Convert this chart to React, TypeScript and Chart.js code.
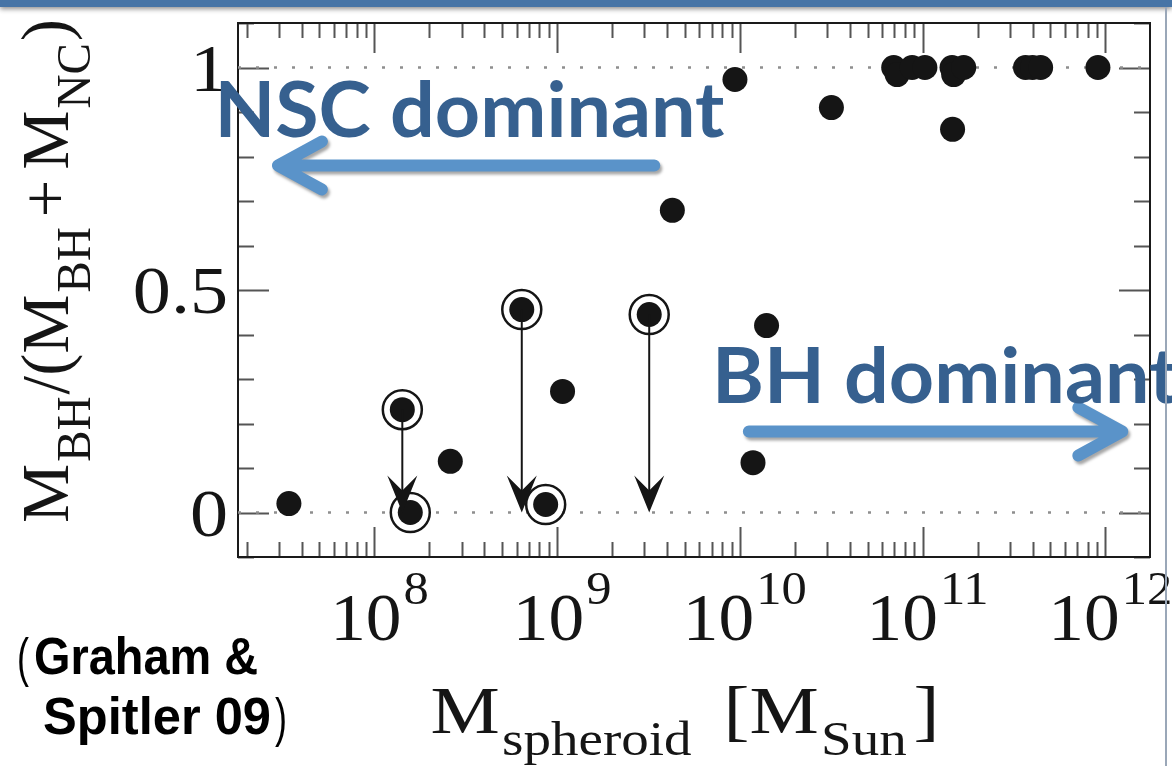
import React, { useEffect, useRef } from 'react';
import { Chart, registerables } from 'chart.js';

Chart.register(...registerables);

const W = 1172;
const H = 766;

// ---- data (spheroid mass in solar masses, BH mass fraction) ----
const plainMass = [3.4e7, 2.6e8, 1.07e9, 4.27e9, 9.4e9, 1.18e10, 1.4e10, 3.17e10, 6.95e10, 7.26e10, 8.77e10, 1.03e11, 1.45e11, 1.48e11, 1.68e11, 1.46e11, 3.66e11, 4.0e11, 4.43e11, 9.12e11];
const plainFrac = [0.02, 0.115, 0.272, 0.679, 0.973, 0.112, 0.42, 0.91, 1.0, 0.984, 1.0, 1.0, 1.0, 0.984, 1.0, 0.861, 1.0, 1.0, 1.0, 1.0];

const circledMass = [1.42e8, 1.57e8, 6.4e8, 8.65e8, 3.19e9];
const circledFrac = [0.231, 0.0, 0.456, 0.018, 0.445];

// upper limits (arrows down)
const limitMass = [1.42e8, 6.4e8, 3.19e9];
const limitFrom = [0.231, 0.456, 0.445];
const limitTo = [0, 0, 0];

const refLevels = [0, 1];

const xMin = 1.79e7;
const xMax = 1.758e12;
const yMin = -0.1;
const yMax = 1.1;

const decadeExps = [8, 9, 10, 11, 12];
const yTickValues = [0, 0.5, 1];
const yTickLabels = ['0', '0.5', '1'];

// annotations (data coordinates)
const nscArrowX = [3.4e9, 2.96e7];
const nscArrowY = 0.78;
const bhArrowX = [1.12e10, 1.24e12];
const bhArrowY = 0.182;
const nscLabel = 'NSC dominant';
const nscLabelPos = [1.33e7, 0.843];
const bhLabel = 'BH dominant';
const bhLabelPos = [7.03e9, 0.247];

const citeLine1 = 'Graham &';
const citeLine2 = 'Spitler 09';

const INK = '#151515';
const ANN_TEXT = '#36608F';
const ANN_ARROW = '#5A93C9';
const SERIF = '"Liberation Serif", "Times New Roman", serif';
const MAIN = 68;
const SUB = 48;
const SUBDROP = 22;

type Piece = { t: string; sub?: boolean; gap?: number };

const xTitle: Piece[] = [
  { t: 'M' },
  { t: 'spheroid', sub: true, gap: 2 },
  { t: '[', gap: 28 },
  { t: 'M' },
  { t: 'Sun', sub: true, gap: 2 },
  { t: ']', gap: 6 },
];
const yTitle: Piece[] = [
  { t: 'M' },
  { t: 'BH', sub: true, gap: 2 },
  { t: '/', gap: 2 },
  { t: '(' },
  { t: 'M' },
  { t: 'BH', sub: true, gap: 2 },
  { t: '+', gap: 10 },
  { t: 'M', gap: 10 },
  { t: 'NC', sub: true, gap: 2 },
  { t: ')', gap: 2 },
];

function pieceFont(p: Piece) {
  return `${p.sub ? SUB : MAIN}px ${SERIF}`;
}

function drawMath(ctx: CanvasRenderingContext2D, pieces: Piece[], target: number) {
  let nat = 0;
  for (const p of pieces) {
    ctx.font = pieceFont(p);
    nat += (p.gap || 0) + ctx.measureText(p.t).width;
  }
  const sx = target / nat;
  ctx.save();
  ctx.translate(-target / 2, 0);
  ctx.scale(sx, 1);
  let x = 0;
  for (const p of pieces) {
    x += p.gap || 0;
    ctx.font = pieceFont(p);
    ctx.fillText(p.t, x, p.sub ? SUBDROP : 0);
    x += ctx.measureText(p.t).width;
  }
  ctx.restore();
}

function drawFit(ctx: CanvasRenderingContext2D, text: string, x: number, y: number, font: string, width: number) {
  ctx.font = font;
  const w = ctx.measureText(text).width;
  ctx.save();
  ctx.translate(x, y);
  ctx.scale(width / w, 1);
  ctx.fillText(text, 0, 0);
  ctx.restore();
}

const decor = {
  id: 'decor',
  beforeDatasetsDraw(chart: any) {
    const { ctx, chartArea: a, scales } = chart;
    const xs = scales.x;
    const ys = scales.y;
    ctx.save();
    ctx.strokeStyle = '#555';
    ctx.lineWidth = 2;
    for (let e = Math.floor(Math.log10(xMin)); e <= Math.ceil(Math.log10(xMax)); e++) {
      for (let m = 1; m <= 9; m++) {
        const v = m * Math.pow(10, e);
        if (v < xMin || v > xMax) continue;
        const px = Math.round(xs.getPixelForValue(v)) + 0.5;
        const len = m === 1 ? 30 : 15;
        ctx.beginPath();
        ctx.moveTo(px, a.bottom);
        ctx.lineTo(px, a.bottom - len);
        ctx.moveTo(px, a.top);
        ctx.lineTo(px, a.top + len);
        ctx.stroke();
      }
    }
    for (let i = -1; i <= 11; i++) {
      const v = i / 10;
      const py = Math.round(ys.getPixelForValue(v)) + 0.5;
      const len = i % 5 === 0 ? 31 : 16;
      ctx.beginPath();
      ctx.moveTo(a.left, py);
      ctx.lineTo(a.left + len, py);
      ctx.moveTo(a.right, py);
      ctx.lineTo(a.right - len, py);
      ctx.stroke();
    }
    ctx.strokeStyle = '#1a1a1a';
    ctx.lineWidth = 2;
    ctx.strokeRect(a.left, a.top, a.right - a.left, a.bottom - a.top);
    ctx.restore();
  },
  afterDatasetsDraw(chart: any) {
    const { ctx, chartArea: a, scales } = chart;
    const xs = scales.x;
    const ys = scales.y;
    ctx.save();

    // upper-limit arrows
    ctx.strokeStyle = INK;
    ctx.fillStyle = INK;
    ctx.lineWidth = 2;
    limitMass.forEach((m, i) => {
      const px = xs.getPixelForValue(m);
      const p0 = ys.getPixelForValue(limitFrom[i]);
      const p1 = ys.getPixelForValue(limitTo[i]);
      ctx.beginPath();
      ctx.moveTo(px, p0);
      ctx.lineTo(px, p1 - 20);
      ctx.stroke();
      ctx.beginPath();
      ctx.moveTo(px, p1);
      ctx.lineTo(px - 15, p1 - 37);
      ctx.lineTo(px, p1 - 22);
      ctx.lineTo(px + 15, p1 - 37);
      ctx.closePath();
      ctx.fill();
    });

    // tick labels
    ctx.fillStyle = INK;
    ctx.textAlign = 'left';
    ctx.textBaseline = 'alphabetic';
    const labBase = a.bottom + 83;
    decadeExps.forEach((e) => {
      const px = xs.getPixelForValue(Math.pow(10, e));
      ctx.font = `${MAIN}px ${SERIF}`;
      const w1 = ctx.measureText('10').width * 1.05;
      ctx.font = `${SUB - 2}px ${SERIF}`;
      const w2 = ctx.measureText(String(e)).width * 1.1;
      const start = px - (w1 + w2 + 2) / 2 + 5;
      drawFit(ctx, '10', start, labBase, `${MAIN}px ${SERIF}`, w1);
      drawFit(ctx, String(e), start + w1 + 2, labBase - 36, `${SUB - 2}px ${SERIF}`, w2);
    });
    yTickValues.forEach((v, i) => {
      const py = ys.getPixelForValue(v);
      ctx.font = `${MAIN}px ${SERIF}`;
      const w = ctx.measureText(yTickLabels[i]).width * 1.12;
      drawFit(ctx, yTickLabels[i], a.left - 10 - w, py + 23, `${MAIN}px ${SERIF}`, w);
    });

    // x title
    ctx.save();
    ctx.translate((a.left + a.right) / 2 - 9, a.bottom + 176);
    drawMath(ctx, xTitle, 509);
    ctx.restore();

    // y title
    ctx.save();
    ctx.translate(a.left - 170, (a.top + a.bottom) / 2 - 19);
    ctx.rotate(-Math.PI / 2);
    drawMath(ctx, yTitle, 504);
    ctx.restore();

    // citation
    ctx.fillStyle = '#000';
    const bold = 'bold 52px "Liberation Sans", Arial, sans-serif';
    const reg = '54px "Liberation Sans", Arial, sans-serif';
    const citeBase1 = a.bottom + 117;
    const citeBase2 = a.bottom + 177;
    drawFit(ctx, '(', 17, citeBase1 + 2, reg, 12);
    drawFit(ctx, citeLine1, 34, citeBase1, bold, 224);
    drawFit(ctx, citeLine2, 43, citeBase2, bold, 228);
    drawFit(ctx, ')', 275, citeBase2 + 2, reg, 12);

    // blue annotation arrows
    ctx.save();
    ctx.shadowColor = 'rgba(0,0,0,0.35)';
    ctx.shadowBlur = 3;
    ctx.shadowOffsetX = 2;
    ctx.shadowOffsetY = 3;
    ctx.strokeStyle = ANN_ARROW;
    ctx.lineWidth = 12;
    ctx.lineCap = 'round';
    ctx.lineJoin = 'round';
    const drawBlueArrow = (xsArr: number[], yv: number) => {
      const x0 = xs.getPixelForValue(xsArr[0]);
      const x1 = xs.getPixelForValue(xsArr[1]);
      const py = ys.getPixelForValue(yv);
      const dir = Math.sign(x1 - x0);
      ctx.beginPath();
      ctx.moveTo(x0, py);
      ctx.lineTo(x1 - dir * 4, py);
      ctx.moveTo(x1 - dir * 44, py - 24);
      ctx.lineTo(x1, py);
      ctx.lineTo(x1 - dir * 44, py + 24);
      ctx.stroke();
    };
    drawBlueArrow(nscArrowX, nscArrowY);
    drawBlueArrow(bhArrowX, bhArrowY);
    ctx.restore();

    // annotation texts
    ctx.fillStyle = ANN_TEXT;
    const annFont = 'bold 76px Lato, "Open Sans", sans-serif';
    ctx.font = annFont;
    const sx = 510 / ctx.measureText(nscLabel).width;
    const drawAnn = (t: string, pos: number[]) => {
      const px = xs.getPixelForValue(pos[0]);
      const py = ys.getPixelForValue(pos[1]);
      ctx.save();
      ctx.translate(px, py);
      ctx.scale(sx, 1);
      ctx.font = annFont;
      ctx.fillText(t, 0, 0);
      ctx.restore();
    };
    drawAnn(nscLabel, nscLabelPos);
    drawAnn(bhLabel, bhLabelPos);

    ctx.restore();
  },
};

export default function App() {
  const ref = useRef<HTMLCanvasElement | null>(null);
  useEffect(() => {
    if (!ref.current) return;
    const dots = [
      ...plainMass.map((m, i) => ({ x: m, y: plainFrac[i] })),
      ...circledMass.map((m, i) => ({ x: m, y: circledFrac[i] })),
    ];
    const rings = circledMass.map((m, i) => ({ x: m, y: circledFrac[i] }));
    const chart = new Chart(ref.current, {
      type: 'scatter',
      data: {
        datasets: [
          {
            label: 'galaxies',
            data: dots,
            pointRadius: 12.5,
            pointHoverRadius: 12.5,
            backgroundColor: INK,
            borderWidth: 0,
          } as any,
          {
            label: 'rings',
            data: rings,
            pointRadius: 19.5,
            pointHoverRadius: 19.5,
            backgroundColor: 'rgba(0,0,0,0)',
            borderColor: INK,
            borderWidth: 2.5,
          } as any,
          ...refLevels.map((l) => ({
            label: 'ref' + l,
            data: [
              { x: xMin, y: l },
              { x: xMax, y: l },
            ],
            showLine: true,
            pointRadius: 0,
            borderColor: '#8e8e8e',
            borderWidth: 2.5,
            borderDash: [3, 15],
          })) as any,
        ],
      },
      options: {
        responsive: false,
        animation: false,
        events: [],
        layout: { padding: { left: 238, top: 23, right: W - 1153, bottom: H - 557 } },
        plugins: { legend: { display: false }, tooltip: { enabled: false } },
        scales: {
          x: { type: 'logarithmic', min: xMin, max: xMax, display: false },
          y: { type: 'linear', min: yMin, max: yMax, display: false },
        },
      },
      plugins: [decor as any],
    });
    return () => chart.destroy();
  }, []);

  return (
    <div style={{ position: 'fixed', left: 0, top: 0, width: W, height: H, background: '#fff', overflow: 'hidden' }}>
      <canvas ref={ref} width={W} height={H} style={{ position: 'absolute', left: 0, top: 0, width: W, height: H }} />
      <div style={{ position: 'absolute', left: 0, top: 0, width: W, height: 7, background: '#4674A6', boxShadow: '0 2px 5px rgba(0,0,0,0.45)' }} />
      <div style={{ position: 'absolute', left: 1165, top: 7, width: 2, height: H - 7, background: '#9aa7b8' }} />
    </div>
  );
}
